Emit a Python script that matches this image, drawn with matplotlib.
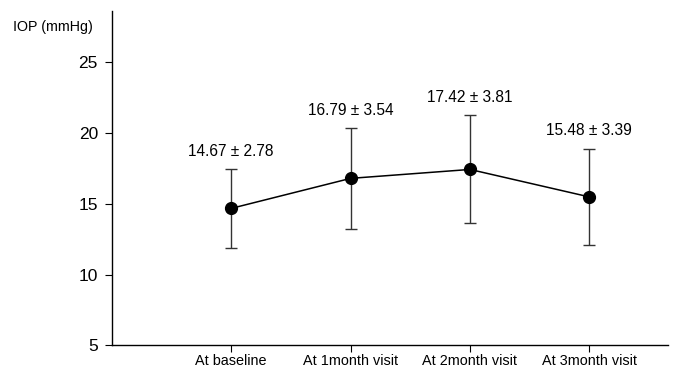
import matplotlib
matplotlib.use("Agg")
import matplotlib.pyplot as plt

plt.rcParams['font.family'] = ['Liberation Sans', 'DejaVu Sans']

# data
visits = ['At baseline', 'At 1month visit', 'At 2month visit', 'At 3month visit']
iop_mean = [14.67, 16.79, 17.42, 15.48]
iop_sd = [2.78, 3.54, 3.81, 3.39]
y_ticks = [5, 10, 15, 20, 25]

xpos = [1, 2, 3, 4]

fig = plt.figure(figsize=(6.86, 3.69), dpi=100)
ax = fig.add_axes([0.163, 0.064, 0.811, 0.906])

ax.errorbar(xpos, iop_mean, yerr=iop_sd, fmt='-o', color='black',
            ecolor='#333333', elinewidth=1.0, capsize=4.3, capthick=1.0,
            markersize=8.5, linewidth=1.1)

for x, m, s in zip(xpos, iop_mean, iop_sd):
    ax.annotate(f'{m:.2f} ± {s:.2f}', (x, m + s), xytext=(0, 7.5),
                textcoords='offset points', ha='center', va='bottom',
                fontsize=11.2)

ax.set_xlim(0, 4.66)
ax.set_ylim(5, 28.6)
ax.set_xticks(xpos)
ax.set_xticklabels(visits, fontsize=10.4)
ax.set_yticks(y_ticks)
ax.tick_params(axis='y', labelsize=12.5, length=5, pad=5)
ax.tick_params(axis='x', length=5, pad=1.5)

for side in ['top', 'right']:
    ax.spines[side].set_visible(False)
for side in ['left', 'bottom']:
    ax.spines[side].set_linewidth(1.0)

fig.text(13 / 686, 1 - 27 / 369, 'IOP (mmHg)', fontsize=10.3, va='center', ha='left')

fig.savefig('out.png', dpi=100)
